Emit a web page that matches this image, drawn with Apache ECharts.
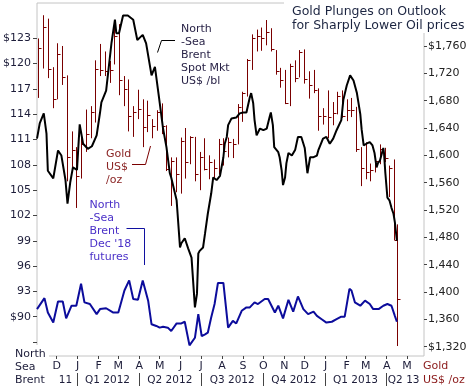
<!DOCTYPE html>
<html><head><meta charset="utf-8">
<script src="https://cdn.jsdelivr.net/npm/echarts@6/dist/echarts.min.js"></script>
<style>html,body{margin:0;padding:0;background:#fff}#c{width:472px;height:386px}</style>
</head><body><div id="c"></div>
<script>
// ---------------- DATA ----------------
const goldDates = ['2011-11-04','2011-11-11','2011-11-18','2011-11-25','2011-12-02','2011-12-09','2011-12-16','2011-12-23','2011-12-30',
 '2012-01-06','2012-01-13','2012-01-20','2012-01-27','2012-02-03','2012-02-10','2012-02-17','2012-02-24',
 '2012-03-02','2012-03-09','2012-03-16','2012-03-23','2012-03-30','2012-04-06','2012-04-13','2012-04-20','2012-04-27',
 '2012-05-04','2012-05-11','2012-05-18','2012-05-25','2012-06-01','2012-06-08','2012-06-15','2012-06-22','2012-06-29',
 '2012-07-06','2012-07-13','2012-07-20','2012-07-27','2012-08-03','2012-08-10','2012-08-17','2012-08-24','2012-08-31',
 '2012-09-07','2012-09-14','2012-09-21','2012-09-28','2012-10-05','2012-10-12','2012-10-19','2012-10-26',
 '2012-11-02','2012-11-09','2012-11-16','2012-11-23','2012-11-30','2012-12-07','2012-12-14','2012-12-21','2012-12-28',
 '2013-01-04','2013-01-11','2013-01-18','2013-01-25','2013-02-01','2013-02-08','2013-02-15','2013-02-22',
 '2013-03-01','2013-03-08','2013-03-15','2013-03-22','2013-03-29','2013-04-05','2013-04-12','2013-04-16'];
const goldHigh = [1771,1805,1800,1729,1764,1760,1717,1635,1612,
 1627,1667,1672,1739,1763,1752,1738,1790,1792,1716,1711,1672,1696,1682,1680,1653,1666,
 1676,1644,1597,1597,1626,1640,1628,1627,1605,1625,1600,1594,1624,1625,1626,1624,1675,1693,
 1741,1777,1784,1787,1798,1786,1754,1728,1725,1734,1739,1754,1755,1723,1725,1698,1669,
 1695,1678,1693,1695,1682,1684,1671,1612,1619,1588,1598,1616,1611,1585,1594,1499];
const goldLow = [1684,1727,1713,1669,1682,1703,1562,1582,1523,
 1566,1605,1625,1648,1716,1716,1706,1733,1688,1672,1635,1627,1653,1612,1634,1625,1636,
 1631,1577,1526,1546,1544,1566,1587,1562,1549,1578,1565,1567,1572,1585,1597,1596,1616,1649,
 1686,1725,1752,1753,1761,1752,1718,1699,1675,1672,1707,1714,1705,1683,1691,1636,1645,
 1625,1644,1660,1655,1650,1656,1605,1555,1565,1562,1575,1587,1590,1539,1476,1321];
const goldClose = [1757,1788,1726,1682,1748,1714,1598,1608,1570,
 1617,1631,1663,1727,1725,1724,1725,1775,1710,1697,1657,1663,1668,1641,1659,1643,1663,
 1643,1580,1591,1572,1621,1590,1627,1572,1598,1580,1590,1582,1617,1606,1620,1616,1671,1691,
 1739,1772,1775,1771,1781,1756,1724,1710,1676,1730,1713,1751,1711,1703,1696,1657,1657,
 1656,1662,1687,1657,1667,1667,1610,1581,1576,1578,1592,1609,1596,1581,1476,1390];

// days counted from 2011-12-01
const brentDays = [-29,-25,-19,-15,-13,-5,2,7,13,16,20,24,30,34,39,46,52,59,64,66,73,81,86,88,92,98,105,113,119,127,
 132,140,145,151,157,162,167,169,177,182,184,189,194,199,204,207,209,211,216,219,223,228,231,236,241,246,248,251,253,258,
 260,265,270,275,280,285,287,290,292,295,300,305,310,314,316,319,321,327,329,332,334,337,339,342,347,352,356,361,366,370,
 374,379,384,386,393,398,403,408,413,420,423,428,433,438,443,448,450,453,457,462,466,469,472,474,477,479,482,483,485,488,
 491,494,497,499,502];
const brentSpot = [111.1,112.9,114.1,111.7,107.3,106.4,109.7,109.1,106.2,103.4,105.9,107.7,107.4,112.8,110.5,109.9,110.2,111.5,114.2,115.4,
 116.8,122.5,125.2,123.6,123.6,125.7,125.7,125.2,122.8,123.4,122.4,118.6,119.6,116.0,112.3,110.1,107.0,106.5,103.8,98.2,
 98.7,99.3,98.1,97.0,91.1,92.7,97.5,97.8,98.2,99.9,102.2,104.6,106.5,106.2,106.7,108.9,110.5,111.3,112.7,113.5,
 113.6,113.6,114.1,114.2,114.2,116.0,116.5,115.3,113.3,111.5,112.3,112.1,112.3,113.6,114.2,112.7,110.1,109.5,108.9,107.3,
 105.6,106.5,108.2,109.4,109.1,109.8,111.3,111.3,110.0,107.0,108.9,108.9,109.1,109.7,111.1,111.3,110.5,111.1,112.1,113.3,
 115.7,117.4,118.6,118.0,116.5,114.0,112.2,110.3,110.5,110.7,110.3,109.4,107.7,108.2,108.5,109.1,110.0,109.4,107.0,104.1,
 103.8,102.9,102.2,101.2,99.0];

const futDays = [-29,-18,-13,-5,2,9,14,22,29,36,41,49,59,64,73,83,91,100,107,113,120,127,135,140,147,152,157,164,169,177,
 184,189,196,204,209,214,219,223,228,233,238,246,253,260,265,273,280,285,292,297,307,312,322,327,334,342,349,356,364,371,
 379,384,391,398,406,413,420,425,432,435,440,448,455,462,467,475,482,488,494,499,502];
const brentFutures = [90.9,92.2,90.5,89.3,91.8,91.8,89.8,91.3,91.3,93.9,91.7,91.5,90.3,90.9,91.0,90.5,90.5,93.1,94.3,92.1,
 92.0,94.3,91.9,89.1,88.9,88.7,88.8,88.7,88.3,89.2,89.2,89.4,86.6,87.5,90.3,87.7,87.9,88.1,89.9,91.5,
 94.0,94.0,88.7,89.5,89.2,90.7,91.1,91.1,91.7,91.5,92.1,92.1,90.5,91.3,89.8,92.0,90.6,92.4,90.9,90.3,
 90.6,90.1,89.7,89.3,89.4,89.7,90.0,90.0,93.3,93.1,91.7,91.3,91.9,91.5,90.9,90.9,91.3,91.5,91.3,90.1,89.4];

const monthStarts = ['2011-12-01','2012-01-01','2012-02-01','2012-03-01','2012-04-01','2012-05-01','2012-06-01','2012-07-01',
 '2012-08-01','2012-09-01','2012-10-01','2012-11-01','2012-12-01','2013-01-01','2013-02-01','2013-03-01','2013-04-01','2013-05-01'];
const monthLetters = ['D','J','F','M','A','M','J','J','A','S','O','N','D','J','F','M','A','M'];
const quarterMids = ['2011-12-14','2012-02-14','2012-05-16','2012-08-16','2012-11-15','2013-02-14','2013-04-26'];
const quarterLabels = ['11','Q1 2012','Q2 2012','Q3 2012','Q4 2012','Q1 2013','Q2 13'];
const quarterSeps = ['2012-01-01','2012-04-01','2012-07-01','2012-10-01','2013-01-01','2013-04-01'];

const leftTicks = [87,90,93,96,99,102,105,108,111,114,117,120,123];
const leftLabelVals = [90,93,96,99,102,105,108,111,114,117,120,123];
const leftLabelText = ['$90','93','96','99','102','105','108','111','114','117','$120','$123'];
const rightTicks = [1320,1360,1400,1440,1480,1520,1560,1600,1640,1680,1720,1760];
const rightLabelText = ['$1,320','1,360','1,400','1,440','1,480','1,520','1,560','1,600','1,640','1,680','1,720','$1,760'];

// ---------------- CHART ----------------
const T = s => new Date(s + 'T00:00:00Z').getTime();
const DAY = 864e5;
const BASE = T('2011-12-01');
const FONT = '"DejaVu Sans", Verdana, sans-serif';
const AXC = '#1d1d3a';
const monthMap = {}; monthStarts.forEach((d,i)=>monthMap[T(d)] = monthLetters[i]);
const qMap = {}; quarterMids.forEach((d,i)=>qMap[T(d)] = quarterLabels[i]);
const lMap = {}; leftLabelVals.forEach((v,i)=>lMap[v] = leftLabelText[i]);
const rMap = {}; rightTicks.forEach((v,i)=>rMap[v] = rightLabelText[i]);
const XMIN = T('2011-11-02'), XMAX = T('2013-05-26');

const chart = echarts.init(document.getElementById('c'), null, {renderer:'canvas'});
const goldColor = '#7a0000';

chart.setOption({
  animation: false,
  backgroundColor: '#fff',
  grid: {left: 37, right: 48, top: 3, bottom: 30, show: true, borderColor: '#c4c4c4', borderWidth: 1},
  xAxis: [
    {type: 'value', min: XMIN, max: XMAX, position: 'bottom', scale: true,
     axisLine: {show: false}, splitLine: {show: false},
     axisTick: {show: true, customValues: monthStarts.map(T), length: 3, lineStyle: {color: '#444'}},
     axisLabel: {customValues: monthStarts.map(T), formatter: v => monthMap[v] || '', margin: 5,
                 fontSize: 11, fontFamily: FONT, color: AXC}},
    {type: 'value', min: XMIN, max: XMAX, position: 'bottom', offset: 17, scale: true,
     axisLine: {show: false}, splitLine: {show: false},
     axisTick: {show: true, customValues: quarterSeps.map(T), length: 13, lineStyle: {color: '#444'}},
     axisLabel: {customValues: quarterMids.map(T), formatter: v => qMap[v] || '', margin: 2,
                 fontSize: 10.5, fontFamily: FONT, color: AXC}}
  ],
  yAxis: [
    {type: 'value', min: 85.34, max: 127.18, position: 'left',
     axisLine: {show: false}, splitLine: {show: false},
     axisTick: {show: true, customValues: leftTicks, length: 4, lineStyle: {color: '#444'}},
     axisLabel: {customValues: leftLabelVals, formatter: v => lMap[v] || '', margin: 6,
                 fontSize: 11, fontFamily: FONT, color: AXC}},
    {type: 'value', min: 1306.4, max: 1822.9, position: 'right',
     axisLine: {show: false}, splitLine: {show: false},
     axisTick: {show: true, customValues: rightTicks, length: 3, lineStyle: {color: '#444'}},
     axisLabel: {customValues: rightTicks, formatter: v => rMap[v] || '', margin: 4,
                 fontSize: 11, fontFamily: FONT, color: '#222'}}
  ],
  series: [
    {type: 'custom', xAxisIndex: 0, yAxisIndex: 1, z: 2, clip: true,
     data: goldDates.map((d,i) => [T(d), goldHigh[i], goldLow[i], goldClose[i]]),
     encode: {x: 0, y: [1,2,3]},
     renderItem: function (params, api) {
       const t = api.value(0);
       const h = api.coord([t, api.value(1)]);
       const l = api.coord([t, api.value(2)]);
       const c = api.coord([t, api.value(3)]);
       const x = Math.round(h[0]) + 0.5;
       const cy = Math.round(c[1]) + 0.5;
       return {type: 'group', children: [
         {type: 'line', shape: {x1: x, y1: h[1], x2: x, y2: l[1]}, style: {stroke: goldColor, lineWidth: 1}},
         {type: 'line', shape: {x1: x, y1: cy, x2: x + 3, y2: cy}, style: {stroke: goldColor, lineWidth: 1}}
       ]};
     }},
    {type: 'line', xAxisIndex: 0, yAxisIndex: 0, z: 4, symbol: 'none',
     data: brentDays.map((d,i) => [BASE + d * DAY, brentSpot[i]]),
     lineStyle: {color: '#000', width: 2}},
    {type: 'line', xAxisIndex: 0, yAxisIndex: 0, z: 4, symbol: 'none',
     data: futDays.map((d,i) => [BASE + d * DAY, brentFutures[i]]),
     lineStyle: {color: '#0c0c9c', width: 2}}
  ],
  graphic: [
    {type: 'rect', z: 50, shape: {x: 284, y: 0, width: 188, height: 33}, style: {fill: '#fff'}},
    {type: 'text', z: 51, x: 292, y: 5, style: {text: 'Gold Plunges on Outlook\nfor Sharply Lower Oil prices',
      font: '12.5px ' + FONT, fill: '#1c2541', lineHeight: 13.5, verticalAlign: 'top'}},
    {type: 'text', z: 51, x: 181, y: 22.5, style: {text: 'North\n-Sea\nBrent\nSpot Mkt\nUS$ /bl',
      font: '11px ' + FONT, fill: '#2a2448', lineHeight: 13, verticalAlign: 'top'}},
    {type: 'polyline', z: 51, shape: {points: [[175,40.5],[161.5,40.5],[157.5,52.5]]}, style: {stroke: '#000', lineWidth: 1, fill: null}},
    {type: 'text', z: 51, x: 106, y: 147.5, style: {text: 'Gold\nUS$\n/oz',
      font: '11px ' + FONT, fill: '#8b2525', lineHeight: 13, verticalAlign: 'top'}},
    {type: 'polyline', z: 51, shape: {points: [[132,164.5],[145.5,164.5],[150.5,146]]}, style: {stroke: '#7a0000', lineWidth: 1, fill: null}},
    {type: 'text', z: 51, x: 89.5, y: 199, style: {text: "North\n-Sea\nBrent\nDec '18\nfutures",
      font: '11px ' + FONT, fill: '#4a30c8', lineHeight: 13, verticalAlign: 'top'}},
    {type: 'polyline', z: 51, shape: {points: [[126.5,228.5],[144.5,228.5],[144.5,265]]}, style: {stroke: '#1010a0', lineWidth: 1, fill: null}},
    {type: 'rect', z: 50, shape: {x: 10, y: 345, width: 39, height: 41}, style: {fill: '#fff'}},
    {type: 'text', z: 51, x: 15, y: 347.5, style: {text: 'North\nSea\nBrent',
      font: '11px ' + FONT, fill: AXC, lineHeight: 13, verticalAlign: 'top'}},
    {type: 'text', z: 51, x: 423, y: 359.5, style: {text: 'Gold\nUS$ /oz',
      font: '11px ' + FONT, fill: '#8b1a1a', lineHeight: 13.5, verticalAlign: 'top'}}
  ]
});
</script>
</body></html>
